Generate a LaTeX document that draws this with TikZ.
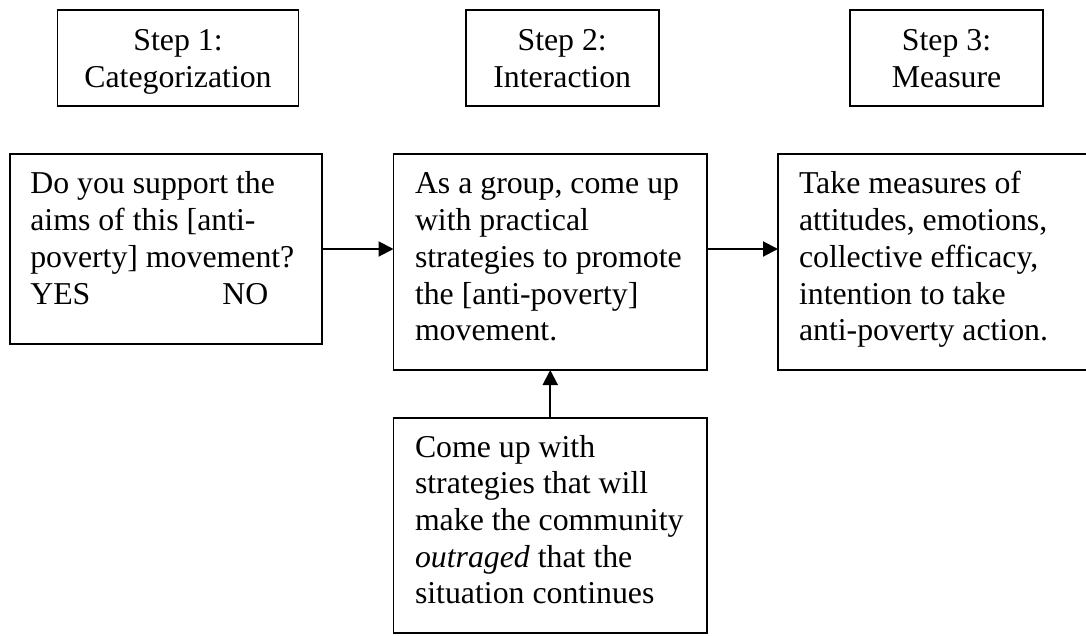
\documentclass[tikz,border=0pt]{standalone}
\usepackage{fontspec}
\setmainfont{Liberation Serif}
\usetikzlibrary{arrows.meta}
\tikzset{
  box/.style={draw=black, line width=1.8pt, inner sep=0pt, outer sep=0pt, anchor=north west},
  txt/.style={anchor=north west, inner sep=0pt, outer sep=0pt, align=left, font=\fontsize{31.8}{36.7}\selectfont},
  ctxt/.style={anchor=north, inner sep=0pt, outer sep=0pt, align=center, font=\fontsize{31.8}{36.7}\selectfont},
  arr/.style={line width=2pt, -{Triangle[length=15pt,width=15pt]}}
}
\begin{document}
\begin{tikzpicture}[x=1pt,y=-1pt]
\useasboundingbox (0,0) rectangle (1086,635);
\clip (0,0) rectangle (1086,635);
% step boxes
\node[box, minimum width=241pt, minimum height=96pt] (s1) at (57.5,10) {};
\node[box, minimum width=193pt, minimum height=96pt] (s2) at (465.6,10) {};
\node[box, minimum width=193pt, minimum height=96pt] (s3) at (850,10) {};
\node[ctxt] (s1t) at (178,25.3) {\strut Step 1:\\\strut Categorization};
\node[ctxt] (s2t) at (562.2,25.3) {\strut Step 2:\\\strut Interaction};
\node[ctxt] (s3t) at (946.5,25.3) {\strut Step 3:\\\strut Measure};
% main boxes
\node[box, minimum width=312.4pt, minimum height=190pt] (A) at (9.6,154) {};
\node[box, minimum width=313.5pt, minimum height=216pt] (B) at (393.5,154) {};
\node[box, minimum width=330pt, minimum height=216pt] (C) at (778,154) {};
\node[box, minimum width=313.5pt, minimum height=215pt] (D) at (393.5,418) {};
\node[txt] (At) at (30.3,168.3) {\strut Do you support the\\\strut aims of this [anti-\\\strut poverty] movement?\\\strut\makebox[192pt][l]{YES}NO};
\node[txt] (Bt) at (415,168.3) {\strut As a group, come up\\\strut with practical\\\strut strategies to promote\\\strut the [anti-poverty]\\\strut movement.};
\node[txt] (Ct) at (799,168.3) {\strut Take measures of\\\strut attitudes, emotions,\\\strut collective efficacy,\\\strut intention to take\\\strut anti-poverty action.};
\node[txt] (Dt) at (415,431.3) {\strut Come up with\\\strut strategies that will\\\strut make the community\\\strut\textit{outraged} that the\\\strut situation continues};
% connectors
\coordinate (ab) at (A.east);
\draw[arr] (ab) -- (ab -| B.west);
\draw[arr] (ab -| B.east) -- (ab -| C.west);
\draw[arr] (D.north) -- (B.south);
\end{tikzpicture}
\end{document}
